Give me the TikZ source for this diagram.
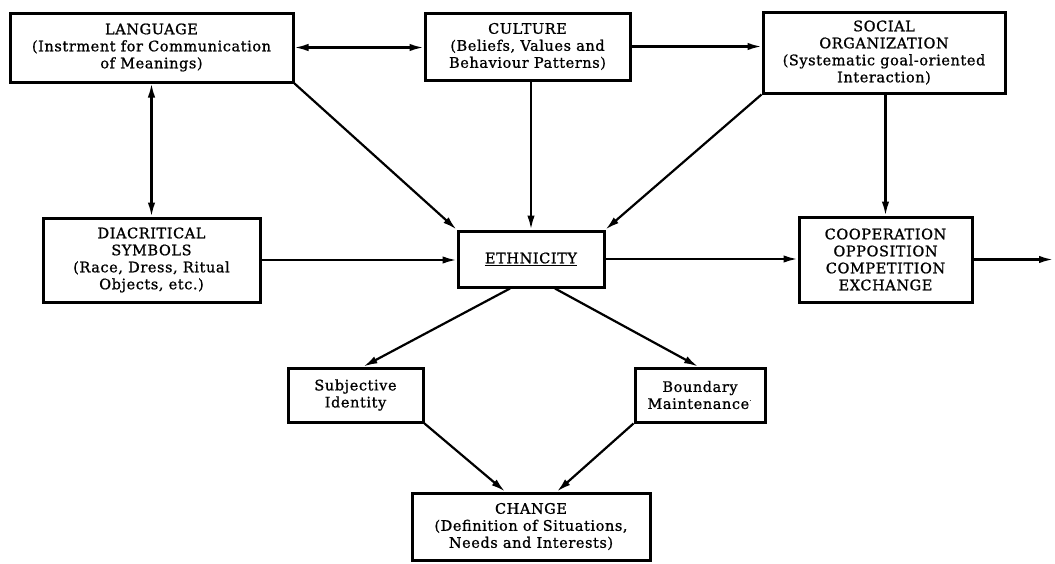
\documentclass[tikz,border=0pt]{standalone}
\usepackage{fontspec}
\setmainfont{DejaVu Serif}
\newfontfamily\boxfont[LetterSpace=4,FakeBold=1]{DejaVu Serif}
\usetikzlibrary{arrows.meta,calc}

\tikzset{
  box/.style={draw, line width=3pt, rectangle, inner sep=0pt, align=center,
              font=\boxfont\fontsize{14.5}{17}\selectfont},
  tip/.tip={Latex[length=14pt,width=7.5pt]},
  flow/.style={line width=2.2pt, -tip},
  both/.style={line width=2.2pt, tip-tip}
}

\begin{document}
\begin{tikzpicture}[x=1pt,y=-1pt]
\useasboundingbox (0,0) rectangle (1055,563);

% boxes
\node[box, minimum width=283pt, minimum height=69pt] (lang) at (151.5,47.5)
  {LANGUAGE\\(Instrment for Communication\\of Meanings)};
\node[box, minimum width=205pt, minimum height=67pt] (cult) at (527.5,46.5)
  {CULTURE\\(Beliefs, Values and\\Behaviour Patterns)};
\node[box, minimum width=242pt, minimum height=81pt] (soc) at (884,52.5)
  {SOCIAL\\ORGANIZATION\\(Systematic goal-oriented\\Interaction)};
\node[box, minimum width=217pt, minimum height=84pt] (diac) at (151.5,260)
  {DIACRITICAL\\SYMBOLS\\(Race, Dress, Ritual\\Objects, etc.)};
\node[box, minimum width=146pt, minimum height=56pt] (eth) at (531,259)
  {\underline{ETHNICITY}};
\node[box, minimum width=173pt, minimum height=85pt] (coop) at (885.5,259.5)
  {COOPERATION\\OPPOSITION\\COMPETITION\\EXCHANGE};
\node[box, minimum width=135pt, minimum height=54pt] (subj) at (355.5,395)
  {Subjective\\Identity};
\node[box, minimum width=130pt, minimum height=54pt] (bound) at (700,395)
  {Boundary\\Maintenance\textsuperscript{$\cdot$}};
\node[box, minimum width=238pt, minimum height=67pt] (change) at (531,526.5)
  {CHANGE\\(Definition of Situations,\\Needs and Interests)};

\coordinate (out) at (1053,259.5);

% top row
\draw[both] (lang.east) -- (lang.east -| cult.west);
\draw[flow] (cult.east) -- (cult.east -| soc.west);
\draw[both] (lang.south) -- (diac.north);

% into ethnicity
\draw[flow] (lang.south east) -- (eth.north west);
\draw[flow] (eth.north |- cult.south) -- (eth.north);
\draw[flow] (soc.south west) -- (eth.north east);
\draw[flow] (diac.east) -- (diac.east -| eth.west);

% right side
\draw[flow] (coop.north |- soc.south) -- (coop.north);
\draw[flow] (eth.east) -- (eth.east -| coop.west);
\draw[flow] (coop.east) -- (out);

% lower part
\draw[flow] ([xshift=-21pt]eth.south) -- ([xshift=8pt]subj.north);
\draw[flow] ([xshift=24pt]eth.south) -- ([xshift=-2pt]bound.north);
\draw[flow] (subj.south east) -- ([xshift=-26pt]change.north);
\draw[flow] (bound.south west) -- ([xshift=26pt]change.north);
\end{tikzpicture}
\end{document}
